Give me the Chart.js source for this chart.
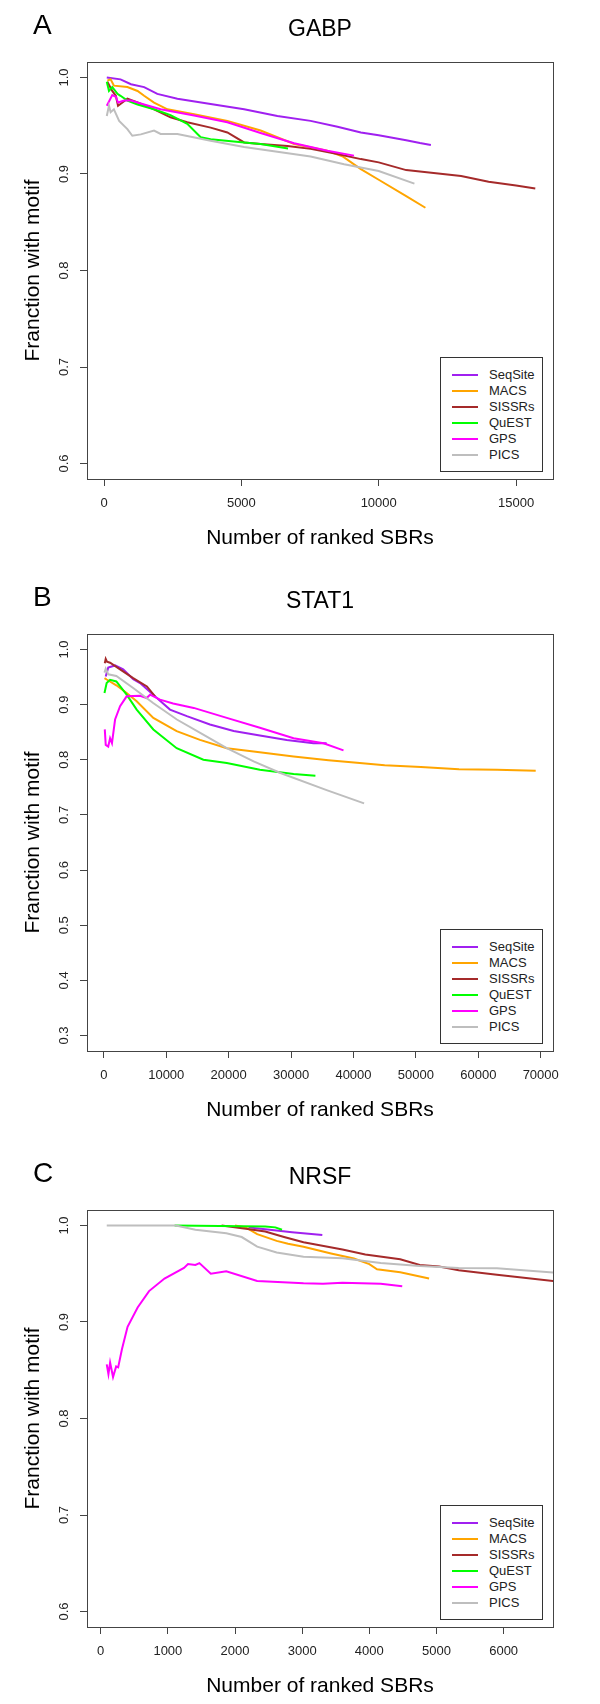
<!DOCTYPE html>
<html>
<head>
<meta charset="utf-8">
<title>Fraction with motif</title>
<script src="https://cdn.jsdelivr.net/npm/chart.js@4.4.0/dist/chart.umd.min.js"></script>
<style>
  body { margin: 0; background: #fff; font-family: "Liberation Sans", Arial, sans-serif; }
  .panel { position: absolute; left: 0; width: 600px; height: 556px; }
  .letter { position: absolute; left: 33px; top: 11px; font-size: 28px; line-height: 28px; color: #000; }
  .legend { position: absolute; left: 440px; top: 357px; width: 101px; height: 113px; border: 1px solid #333; background: #fff; }
  .legend .row { position: absolute; left: 0; height: 16px; width: 100%; }
  .legend .swatch { position: absolute; left: 11px; top: 7px; width: 26px; height: 2px; }
  .legend .lbl { position: absolute; left: 48px; top: 0; font-size: 13px; line-height: 16px; color: #222; }
</style>
</head>
<body>

<div class="panel" id="panelA" style="top:0px">
  <canvas id="chartA" width="600" height="556"></canvas>
  <div class="letter">A</div>
</div>
<div class="panel" id="panelB" style="top:572px">
  <canvas id="chartB" width="600" height="556"></canvas>
  <div class="letter">B</div>
</div>
<div class="panel" id="panelC" style="top:1148px">
  <canvas id="chartC" width="600" height="556"></canvas>
  <div class="letter">C</div>
</div>

<script>
// series shared by all three panels
var seriesNames = ["SeqSite", "MACS", "SISSRs", "QuEST", "GPS", "PICS"];
var seriesColors = ["#A020F0", "#FFA500", "#A52A2A", "#00FF00", "#FF00FF", "#BEBEBE"];

// A - GABP  [rank, fraction]
var gabpSeqSite = [[100,1.0],[600,0.998],[980,0.993],[1460,0.990],[1940,0.983],[2670,0.978],[3880,0.9725],[5100,0.967],[6310,0.960],[7520,0.955],[8500,0.949],[9350,0.943],[10000,0.940],[11000,0.935],[11500,0.932],[11900,0.930]];
var gabpMACS = [[120,0.9967],[240,0.998],[360,0.9915],[850,0.990],[1220,0.986],[1460,0.981],[1820,0.974],[2310,0.967],[3280,0.962],[4490,0.955],[5700,0.945],[6920,0.931],[8130,0.924],[8700,0.918],[9350,0.905],[10000,0.894],[11000,0.877],[11700,0.865]];
var gabpSISSRs = [[120,0.9955],[300,0.986],[430,0.981],[510,0.9707],[670,0.974],[850,0.978],[1220,0.974],[1820,0.967],[2420,0.9587],[3030,0.9535],[3880,0.948],[4490,0.943],[5100,0.9327],[5700,0.931],[6680,0.929],[7520,0.926],[8500,0.9206],[9350,0.9154],[10000,0.912],[11000,0.904],[12000,0.901],[13000,0.898],[14000,0.892],[15000,0.888],[15700,0.885]];
var gabpQuEST = [[100,0.9955],[180,0.986],[300,0.990],[490,0.983],[600,0.981],[850,0.976],[1220,0.972],[1820,0.967],[2420,0.961],[3030,0.952],[3520,0.938],[3880,0.936],[5100,0.9327],[5700,0.931],[6700,0.9265]];
var gabpGPS = [[100,0.9707],[180,0.975],[300,0.9818],[430,0.980],[510,0.974],[730,0.976],[980,0.976],[1460,0.972],[2060,0.967],[3280,0.9605],[4490,0.9535],[5700,0.9425],[6920,0.9318],[8130,0.924],[9100,0.919]];
var gabpPICS = [[100,0.960],[180,0.9707],[240,0.964],[360,0.967],[550,0.955],[850,0.9465],[1030,0.9396],[1340,0.941],[1820,0.945],[2060,0.9415],[2670,0.9415],[3880,0.9345],[5100,0.928],[6310,0.923],[7520,0.918],[8740,0.910],[10000,0.903],[11300,0.890]];
var gabpXTicks = [0, 5000, 10000, 15000];
var gabpYTicks = [0.6, 0.7, 0.8, 0.9, 1.0];

// B - STAT1
var stat1SeqSite = [[300,0.951],[700,0.967],[1800,0.971],[3100,0.964],[4700,0.946],[5800,0.939],[8500,0.912],[10600,0.891],[13300,0.879],[17000,0.864],[20800,0.852],[25000,0.844],[29300,0.836],[33600,0.830],[35700,0.830]];
var stat1MACS = [[100,0.948],[450,0.9455],[2000,0.935],[3650,0.921],[5260,0.906],[7930,0.876],[11670,0.852],[15400,0.836],[19700,0.821],[24000,0.815],[30400,0.806],[36000,0.799],[41000,0.794],[45000,0.790],[50800,0.787],[56900,0.783],[63000,0.782],[69200,0.780]];
var stat1SISSRs = [[150,0.975],[300,0.983],[500,0.978],[1000,0.976],[2600,0.964],[4700,0.948],[6900,0.933],[8200,0.915]];
var stat1QuEST = [[100,0.921],[450,0.939],[1000,0.945],[2000,0.942],[3650,0.918],[5260,0.891],[7930,0.855],[11670,0.821],[15950,0.800],[19700,0.794],[25000,0.782],[30400,0.774],[33900,0.771]];
var stat1GPS = [[150,0.855],[300,0.827],[700,0.824],[1000,0.839],[1300,0.830],[1800,0.873],[2600,0.897],[3650,0.915],[5800,0.916],[6860,0.912],[7400,0.918],[9000,0.909],[11100,0.902],[14400,0.894],[19700,0.876],[25000,0.858],[30400,0.839],[35200,0.830],[38400,0.817]];
var stat1PICS = [[100,0.958],[300,0.965],[700,0.955],[2000,0.952],[4700,0.930],[7900,0.903],[11700,0.873],[16000,0.845],[19700,0.821],[24000,0.797],[28300,0.776],[35700,0.745],[41700,0.721]];
var stat1XTicks = [0, 10000, 20000, 30000, 40000, 50000, 60000, 70000];
var stat1YTicks = [0.3, 0.4, 0.5, 0.6, 0.7, 0.8, 0.9, 1.0];

// C - NRSF
var nrsfSeqSite = [[2200,0.998],[2450,0.996],[2850,0.993],[3300,0.990]];
var nrsfMACS = [[2000,1.0],[2160,0.998],[2330,0.991],[2620,0.984],[2790,0.981],[3020,0.978],[3430,0.971],[3770,0.9657],[4000,0.960],[4115,0.9545],[4460,0.9515],[4890,0.945]];
var nrsfSISSRs = [[1800,1.0],[2160,0.9966],[2450,0.9937],[2730,0.988],[3020,0.9825],[3600,0.975],[3940,0.970],[4460,0.965],[4750,0.959],[5040,0.9575],[5330,0.9537],[5900,0.949],[6800,0.942]];
var nrsfQuEST = [[1100,1.0],[2450,0.999],[2600,0.998],[2700,0.9955]];
var nrsfGPS = [[90,0.856],[115,0.846],[140,0.858],[184,0.843],[230,0.854],[260,0.853],[317,0.872],[400,0.895],[550,0.915],[720,0.932],[950,0.945],[1240,0.956],[1300,0.960],[1410,0.959],[1470,0.961],[1640,0.950],[1870,0.9526],[2330,0.9425],[3020,0.940],[3310,0.9395],[3600,0.9407],[4170,0.9396],[4490,0.937]];
var nrsfPICS = [[90,1.0],[1120,1.0],[1410,0.9955],[1870,0.992],[2100,0.988],[2330,0.978],[2620,0.972],[3020,0.9675],[3600,0.966],[4170,0.961],[4750,0.958],[5330,0.956],[5900,0.9556],[6800,0.951]];
var nrsfXTicks = [0, 1000, 2000, 3000, 4000, 5000, 6000];
var nrsfYTicks = [0.6, 0.7, 0.8, 0.9, 1.0];

var FONT = "'Liberation Sans', Arial, sans-serif";
var LINE = "#444";

// R style box round the plot region
var boxPlugin = {
  id: "rbox",
  afterDatasetsDraw: function (chart) {
    var a = chart.chartArea, ctx = chart.ctx;
    ctx.save();
    ctx.strokeStyle = LINE;
    ctx.lineWidth = 1;
    ctx.strokeRect(a.left + 0.5, a.top + 0.5, a.right - a.left, a.bottom - a.top);
    ctx.restore();
  }
};

function addLegend(panelId) {
  var box = document.createElement("div");
  box.className = "legend";
  seriesNames.forEach(function (name, i) {
    var row = document.createElement("div");
    row.className = "row";
    row.style.top = (9 + 16 * i) + "px";
    var sw = document.createElement("div");
    sw.className = "swatch";
    sw.style.background = seriesColors[i];
    var lb = document.createElement("div");
    lb.className = "lbl";
    lb.textContent = name;
    row.appendChild(sw);
    row.appendChild(lb);
    box.appendChild(row);
  });
  document.getElementById(panelId).appendChild(box);
}

function makeChart(canvasId, title, series, xTicks, yTicks, xMin, xMax, yMin, yMax) {
  var datasets = series.map(function (pts, i) {
    return {
      label: seriesNames[i],
      data: pts.map(function (p) { return { x: p[0], y: p[1] }; }),
      borderColor: seriesColors[i],
      borderWidth: 2,
      pointRadius: 0,
      fill: false,
      tension: 0,
      order: -i
    };
  });

  return new Chart(document.getElementById(canvasId), {
    type: "line",
    data: { datasets: datasets },
    options: {
      responsive: false,
      animation: false,
      layout: { padding: { left: 0, right: 47, top: 0, bottom: 5 } },
      plugins: {
        legend: { display: false },
        tooltip: { enabled: false },
        title: {
          display: true,
          text: title,
          fullSize: false,
          color: "#000",
          font: { family: FONT, size: 23, weight: "normal" },
          padding: { top: 16.2, bottom: 18.2 }
        }
      },
      scales: {
        x: {
          type: "linear",
          min: xMin,
          max: xMax,
          afterBuildTicks: function (s) { s.ticks = xTicks.map(function (v) { return { value: v }; }); },
          afterFit: function (s) { s.height = 72; },
          border: { display: false },
          grid: { drawOnChartArea: false, drawTicks: true, tickLength: 7, color: LINE },
          ticks: {
            padding: 10,
            color: "#222",
            font: { family: FONT, size: 13 },
            maxRotation: 0,
            autoSkip: false,
            callback: function (v) { return String(v); }
          },
          title: {
            display: true,
            text: "Number of ranked SBRs",
            color: "#000",
            font: { family: FONT, size: 21 },
            padding: { top: 0, bottom: 0 }
          }
        },
        y: {
          type: "linear",
          min: yMin,
          max: yMax,
          afterBuildTicks: function (s) { s.ticks = yTicks.map(function (v) { return { value: v }; }); },
          afterFit: function (s) { s.width = 87; },
          border: { display: false },
          grid: { drawOnChartArea: false, drawTicks: true, tickLength: 7, color: LINE },
          ticks: {
            padding: 7,
            minRotation: 90,
            crossAlign: "center",
            color: "#222",
            font: { family: FONT, size: 13 },
            autoSkip: false,
            callback: function (v) { return v.toFixed(1); }
          },
          title: {
            display: true,
            text: "Franction with motif",
            color: "#000",
            font: { family: FONT, size: 21 },
            padding: { top: 21, bottom: 0 }
          }
        }
      }
    },
    plugins: [boxPlugin]
  });
}

makeChart("chartA", "GABP",
  [gabpSeqSite, gabpMACS, gabpSISSRs, gabpQuEST, gabpGPS, gabpPICS],
  gabpXTicks, gabpYTicks, -620, 16345, 0.584, 1.016);
makeChart("chartB", "STAT1",
  [stat1SeqSite, stat1MACS, stat1SISSRs, stat1QuEST, stat1GPS, stat1PICS],
  stat1XTicks, stat1YTicks, -2700, 71970, 0.272, 1.028);
makeChart("chartC", "NRSF",
  [nrsfSeqSite, nrsfMACS, nrsfSISSRs, nrsfQuEST, nrsfGPS, nrsfPICS],
  nrsfXTicks, nrsfYTicks, -204, 6735, 0.584, 1.016);

addLegend("panelA");
addLegend("panelB");
addLegend("panelC");
</script>
</body>
</html>
